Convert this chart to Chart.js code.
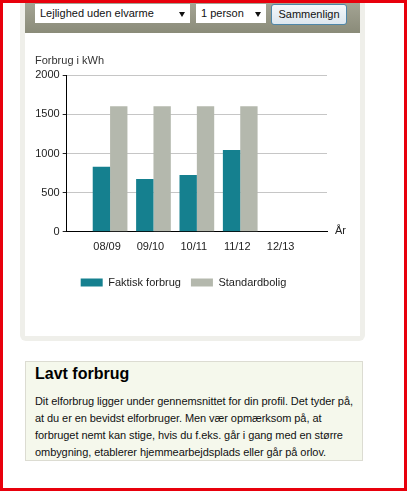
<!DOCTYPE html>
<html><head><meta charset="utf-8">
<script src="https://cdn.jsdelivr.net/npm/chart.js@4"></script>
<style>
html,body{margin:0;padding:0;background:#fff;width:408px;height:491px;overflow:hidden;font-family:"Liberation Sans",Arial,sans-serif;}
#frame{position:absolute;left:0;top:0;width:407px;height:491px;box-sizing:border-box;border:3px solid #e8000c;z-index:5;pointer-events:none;}
#panel{position:absolute;left:20px;top:0;width:345px;height:341px;background:#efefea;border-radius:0 0 6px 6px;}
#inner{position:absolute;left:5px;top:0;width:335px;height:336px;background:#fff;}
#header{position:absolute;left:0;top:0;width:335px;height:33px;background:linear-gradient(#a6a696,#8a8b79);}
.sel{position:absolute;top:4px;height:19px;background:#fff;font-size:11px;line-height:19px;color:#111;padding-left:5px;box-sizing:border-box;}
.arrow{position:absolute;top:8px;width:0;height:0;border-left:3.5px solid transparent;border-right:3.5px solid transparent;border-top:5px solid #111;}
#btn{position:absolute;left:246px;top:4px;width:76px;height:21px;box-sizing:border-box;border:1px solid #4f86a8;border-radius:3px;background:linear-gradient(#f4f7fa,#dde6ee);font-size:11px;line-height:19px;text-align:center;color:#111;}
#chartwrap{position:absolute;left:25px;top:34px;width:335px;height:264px;}
#info{position:absolute;left:25px;top:361px;width:338px;height:100px;box-sizing:border-box;border:1px solid #dcdcd2;background:#f5f8ec;}
#info h2{position:absolute;left:9px;top:2px;margin:0;font-size:16px;line-height:20px;font-weight:bold;color:#000;white-space:nowrap;}
#info p{position:absolute;left:9px;top:31px;margin:0;font-size:11px;line-height:17px;color:#111;white-space:nowrap;letter-spacing:-0.07px;}
</style></head>
<body>
<div id="frame"></div>
<div id="panel"><div id="inner">
  <div id="header">
    <div class="sel" style="left:10px;width:155px;">Lejlighed uden elvarme<div class="arrow" style="left:144px;"></div></div>
    <div class="sel" style="left:171px;width:70px;">1 person<div class="arrow" style="left:59px;"></div></div>
    <div id="btn">Sammenlign</div>
  </div>
</div></div>
<div id="chartwrap"><canvas id="c"></canvas></div>
<div id="info">
  <h2>Lavt forbrug</h2>
  <p>Dit elforbrug ligger under gennemsnittet for din profil. Det tyder på,<br>at du er en bevidst elforbruger. Men vær opmærksom på, at<br>forbruget nemt kan stige, hvis du f.eks. går i gang med en større<br>ombygning, etablerer hjemmearbejdsplads eller går på orlov.</p>
</div>
<script>
const categories = ['08/09', '09/10', '10/11', '11/12', '12/13'];
const faktiskForbrug = [830, 675, 725, 1045, null];
const standardbolig = [1605, 1605, 1605, 1605, null];
const yTickValues = [0, 500, 1000, 1500, 2000];
const seriesNames = ['Faktisk forbrug', 'Standardbolig'];
const yTitle = 'Forbrug i kWh';
const xTitle = 'År';

const FONT = '"Liberation Sans", Arial, sans-serif';
Chart.defaults.font.family = FONT;
Chart.defaults.font.size = 11;
Chart.defaults.color = '#222';

const toPoints = arr => arr.map((v, i) => ({x: i, y: v}));

const yearLabelPlugin = {
  id: 'yearLabel',
  afterDraw(chart) {
    const ctx = chart.ctx;
    const y0 = chart.scales.y.getPixelForValue(0);
    ctx.save();
    ctx.font = '11px ' + FONT;
    ctx.fillStyle = '#222';
    ctx.textAlign = 'left';
    ctx.textBaseline = 'middle';
    ctx.fillText(xTitle, chart.chartArea.right + 8, y0 - 1);
    ctx.restore();
  }
};

new Chart(document.getElementById('c'), {
  type: 'bar',
  data: {
    datasets: [
      {label: seriesNames[0], data: toPoints(faktiskForbrug), backgroundColor: '#15808f', borderWidth: 0},
      {label: seriesNames[1], data: toPoints(standardbolig), backgroundColor: '#b4b8ad', borderWidth: 0}
    ]
  },
  options: {
    responsive: true,
    maintainAspectRatio: false,
    animation: false,
    devicePixelRatio: 1,
    categoryPercentage: 0.8,
    barPercentage: 1.0,
    layout: {padding: {left: 10, right: 28, top: 0, bottom: 0}},
    plugins: {
      title: {display: true, text: yTitle, align: 'start', color: '#333',
              font: {size: 11, weight: 'normal'}, padding: {top: 20.4, bottom: 7.7}},
      legend: {position: 'bottom',
               labels: {boxWidth: 22, boxHeight: 8, padding: 10, color: '#222', font: {size: 11}}},
      tooltip: {enabled: false}
    },
    scales: {
      x: {
        type: 'linear', min: -1, max: 5, offset: false,
        afterBuildTicks(s) { s.ticks = categories.map((c, i) => ({value: i})); },
        afterFit(s) { s.height = 35.2; },
        ticks: {callback: v => categories[v], padding: 9, labelOffset: -3, color: '#222', autoSkip: false, maxRotation: 0},
        grid: {display: false, drawTicks: false},
        border: {display: true, color: '#000', width: 1}
      },
      y: {
        min: 0, max: 2000,
        afterBuildTicks(s) { s.ticks = yTickValues.map(v => ({value: v})); },
        afterFit(s) { s.width = 31.7; },
        ticks: {padding: 3, color: '#222', callback: v => String(v)},
        grid: {color: '#c6c6c6', lineWidth: 1, tickLength: 4, tickColor: '#222'},
        border: {display: true, color: '#000', width: 1}
      },
      yR: {
        position: 'right', display: true,
        afterFit(s) { s.width = 5; },
        ticks: {display: false},
        grid: {display: false, drawTicks: false},
        border: {display: false}
      }
    }
  },
  plugins: [yearLabelPlugin]
});
</script>
</body></html>
